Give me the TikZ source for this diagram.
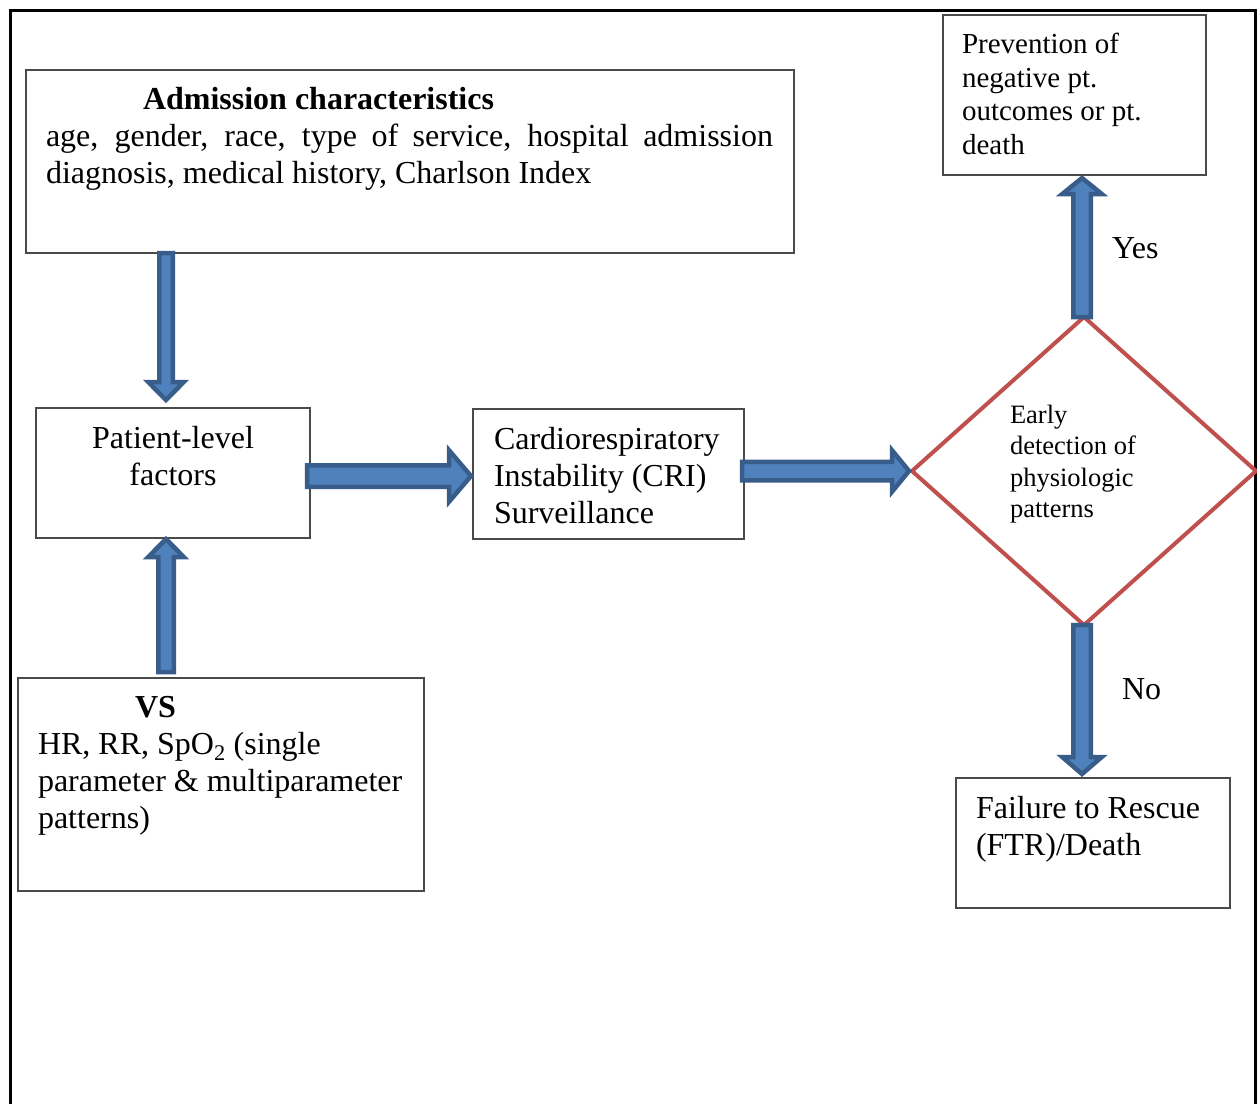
\documentclass[tikz,border=0pt]{standalone}
\usepackage{fontspec}
\setmainfont{Liberation Serif}
\usetikzlibrary{calc,shapes.geometric}

\definecolor{arrfill}{HTML}{4F81BD}
\definecolor{arredge}{HTML}{385D8A}
\definecolor{dred}{HTML}{C0504D}
\definecolor{boxedge}{HTML}{4A4A4A}

% block arrow: #1 start, #2 tip, #3 half shaft width, #4 half head width, #5 head length
\newcommand\blockarrow[5]{%
  \coordinate (ba-base) at ($(#2)!#5!(#1)$);
  \draw[blockarr] ($(#1)!#3!90:(#2)$) -- ($(ba-base)!#3!90:(#2)$)
    -- ($(ba-base)!#4!90:(#2)$) -- (#2) -- ($(ba-base)!#4!-90:(#2)$)
    -- ($(ba-base)!#3!-90:(#2)$) -- ($(#1)!#3!-90:(#2)$) -- cycle;
}

\tikzset{
  box/.style={draw=boxedge, line width=1.8pt, inner sep=0pt, outer sep=0pt, fill=white},
  txt/.style={inner sep=0pt, outer sep=0pt, align=left, font=\fontsize{32}{37}\selectfont},
  smalltxt/.style={txt, font=\fontsize{29}{33.7}\selectfont},
  diatxt/.style={txt, font=\fontsize{26.5}{31.5}\selectfont},
  blockarr/.style={fill=arrfill, draw=arredge, line width=4.5pt, line join=miter},
  decision/.style={diamond, draw=dred, line width=4pt, inner sep=0pt, outer sep=0pt},
  frame/.style={draw=black, line width=3pt}
}

\begin{document}
\begin{tikzpicture}[x=1pt, y=-1pt]
\useasboundingbox (0,0) rectangle (1257,1103);
\fill[white] (0,0) rectangle (1257,1103);

% outer frame (open at the bottom)
\draw[frame] (10,1110) -- (10,10) -- (1255.5,10) -- (1255.5,1110);

% boxes
\node[box, minimum width=768pt, minimum height=183pt] (adm) at (410,161.5) {};
\node[box, minimum width=274pt, minimum height=130pt] (pat) at (173,473) {};
\node[box, minimum width=271pt, minimum height=130pt] (cri) at (608.5,474) {};
\node[box, minimum width=406pt, minimum height=213pt] (vs) at (221,784.5) {};
\node[box, minimum width=263pt, minimum height=160pt] (prev) at (1074.5,95) {};
\node[box, minimum width=274pt, minimum height=130pt] (fail) at (1093,843) {};

% texts
\node[txt, anchor=north west] (admtxt) at (46,87) {%
  \hspace*{97pt}\textbf{Admission characteristics}\\
  \makebox[727pt][s]{age, gender, race, type of service, hospital admission}\\
  diagnosis, medical history, Charlson Index};
\node[txt, align=center, anchor=north] (pattxt) at (173,426) {Patient-level\\factors};
\node[txt, anchor=north west] (critxt) at (494,427) {Cardiorespiratory\\Instability (CRI)\\Surveillance};
\node[txt, anchor=north west] (vstxt) at (38,696) {%
  \hspace*{97pt}\textbf{VS}\\
  HR, RR, SpO\textsubscript{2} (single\\
  parameter \& multiparameter\\
  patterns)};
\node[smalltxt, anchor=north west] (prevtxt) at (962,33) {Prevention of\\negative pt.\\outcomes or pt.\\death};
\node[txt, anchor=north west] (failtxt) at (976,796) {Failure to Rescue\\(FTR)/Death};

% arrow ends
\coordinate (a1s) at ($(pat.north |- adm.south)+(-7,0)$);
\coordinate (a1e) at ($(pat.north)+(-7,-8)$);
\coordinate (a2s) at ($(pat.south |- vs.north)+(-7,-6)$);
\coordinate (a2e) at ($(pat.south)+(-7,1)$);
\coordinate (a3s) at ($(pat.east)+(-3,3)$);
\coordinate (a3e) at ($(cri.west |- a3s)+(-2,0)$);

% decision
\node[decision, minimum width=344pt, minimum height=308pt] (dia) at (1084,471) {};
\node[diatxt, anchor=north west] (diatext) at (1010,405) {Early\\detection of\\physiologic\\patterns};

\coordinate (a4s) at ($(cri.east |- dia.west)+(-2,0)$);
\coordinate (a4e) at ($(dia.west)+(-3,0)$);
\coordinate (a5s) at ($(dia.north)+(-2,0)$);
\coordinate (a5e) at ($(dia.north |- prev.south)+(-2,3)$);
\coordinate (a6s) at ($(dia.south)+(-2,0)$);
\coordinate (a6e) at ($(dia.south |- fail.north)+(-2,-4)$);

% connectors
\blockarrow{a1s}{a1e}{6.75pt}{17.75pt}{18pt}
\blockarrow{a2s}{a2e}{7.75pt}{17.75pt}{18pt}
\blockarrow{a3s}{a3e}{10.75pt}{25.75pt}{22pt}
\blockarrow{a4s}{a4e}{9.25pt}{20.75pt}{17pt}
\blockarrow{a5s}{a5e}{8.75pt}{19.75pt}{16pt}
\blockarrow{a6s}{a6e}{8.75pt}{19.75pt}{17pt}

% branch labels
\node[txt, anchor=north west] (yes) at (1112,238) {Yes};
\node[txt, anchor=north west] (no) at (1122,679) {No};
\end{tikzpicture}
\end{document}
